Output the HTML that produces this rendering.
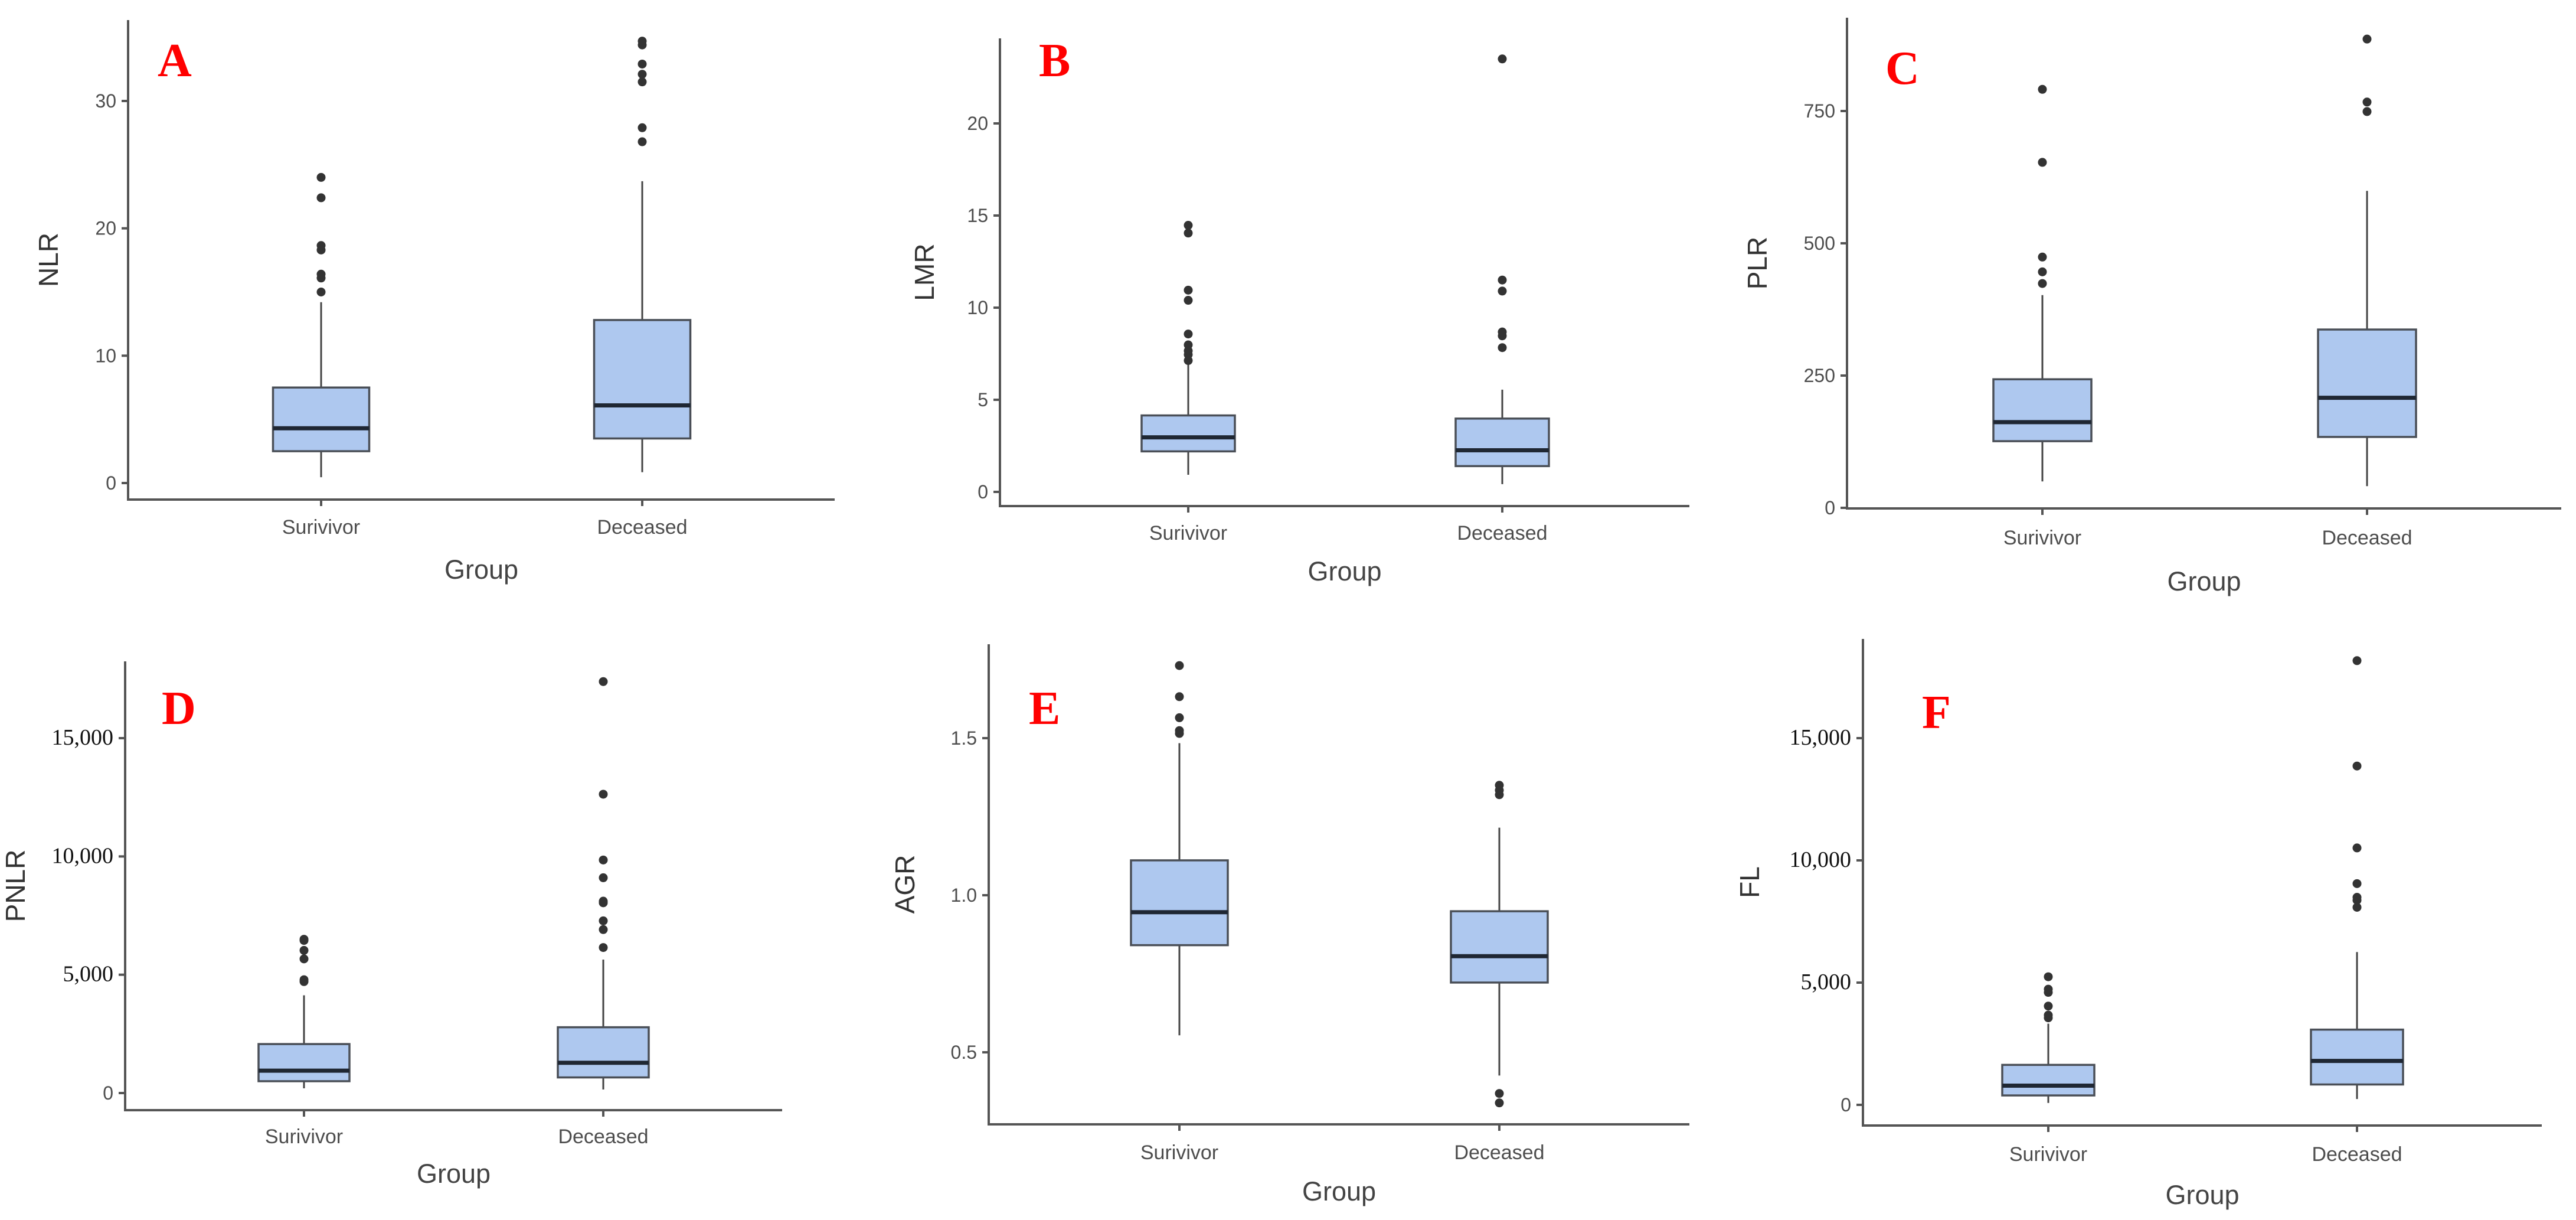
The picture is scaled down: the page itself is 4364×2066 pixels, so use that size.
<!DOCTYPE html>
<html><head><meta charset="utf-8">
<style>
html,body{margin:0;padding:0;background:#fff;}
svg{display:block;}
</style></head>
<body>
<svg id="fig" xmlns="http://www.w3.org/2000/svg" width="4364" height="2066" viewBox="0 0 4364 2066">
<rect x="0" y="0" width="4364" height="2066" fill="#fff"/>
</svg>
<script>
// ---- data: [low whisker, Q1, median, Q3, high whisker] per group ----
const categories = ["Surivivor", "Deceased"];

const nlrStats = [[0.46, 2.5, 4.3, 7.5, 14.2], [0.85, 3.5, 6.1, 12.8, 23.7]];
const nlrOutliers = [[15.0, 16.1, 16.4, 18.3, 18.65, 22.4, 24.0], [26.8, 27.9, 31.5, 32.1, 32.9, 34.4, 34.7]];
const nlrTicks = [0, 10, 20, 30];
const nlrTickLabels = ["0", "10", "20", "30"];

const lmrStats = [[0.93, 2.2, 2.96, 4.15, 7.0], [0.42, 1.4, 2.26, 3.98, 5.55]];
const lmrOutliers = [[7.13, 7.45, 7.66, 7.98, 8.57, 10.4, 10.95, 14.05, 14.47], [7.83, 8.47, 8.68, 10.9, 11.5, 23.5]];
const lmrTicks = [0, 5, 10, 15, 20];
const lmrTickLabels = ["0", "5", "10", "15", "20"];

const plrStats = [[50, 126, 162, 243, 402], [41, 134, 208, 337, 599]];
const plrOutliers = [[424, 446, 474, 653, 791], [749, 767, 886]];
const plrTicks = [0, 250, 500, 750];
const plrTickLabels = ["0", "250", "500", "750"];

const pnlrStats = [[200, 500, 945, 2070, 4130], [150, 660, 1280, 2780, 5640]];
const pnlrOutliers = [[4710, 4790, 5670, 6030, 6450, 6500], [6150, 6910, 7280, 8040, 8110, 9100, 9850, 12630, 17390]];
const pnlrTicks = [0, 5000, 10000, 15000];
const pnlrTickLabels = ["0", "5,000", "10,000", "15,000"];

const agrStats = [[0.554, 0.841, 0.946, 1.111, 1.484], [0.426, 0.722, 0.806, 0.949, 1.215]];
const agrOutliers = [[1.515, 1.524, 1.565, 1.632, 1.731], [1.32, 1.334, 1.35, 0.369, 0.339]];
const agrTicks = [0.5, 1.0, 1.5];
const agrTickLabels = ["0.5", "1.0", "1.5"];

const flStats = [[80, 385, 785, 1635, 3320], [240, 833, 1795, 3077, 6250]];
const flOutliers = [[3560, 3670, 4040, 4600, 4730, 5240], [8080, 8370, 8490, 9050, 10510, 13860, 18170]];
const flTicks = [0, 5000, 10000, 15000];
const flTickLabels = ["0", "5,000", "10,000", "15,000"];

// ---- layout (pixels) ----
const panels = [
 {key:"nlr", letter:"A", ylab:"NLR", stats:nlrStats, out:nlrOutliers, ticks:nlrTicks, tl:nlrTickLabels, serif:false,
  ax:217, top:34, bot:846, right:1414, v0:0, p0:818, v1:30, p1:171, xs:[544,1088], bw:163,
  lx:267, ly:129, ylx:98, cly:904, gy:980},
 {key:"lmr", letter:"B", ylab:"LMR", stats:lmrStats, out:lmrOutliers, ticks:lmrTicks, tl:lmrTickLabels, serif:false,
  ax:1694, top:65, bot:857, right:2862, v0:0, p0:833, v1:20, p1:209, xs:[2013,2545], bw:158,
  lx:1760, ly:129, ylx:1582, cly:914, gy:983},
 {key:"plr", letter:"C", ylab:"PLR", stats:plrStats, out:plrOutliers, ticks:plrTicks, tl:plrTickLabels, serif:false,
  ax:3129, top:30, bot:861, right:4339, v0:0, p0:860, v1:750, p1:188, xs:[3460,4010], bw:166,
  lx:3194, ly:142, ylx:2993, cly:922, gy:1000},
 {key:"pnlr", letter:"D", ylab:"PNLR", stats:pnlrStats, out:pnlrOutliers, ticks:pnlrTicks, tl:pnlrTickLabels, serif:true,
  ax:212, top:1120, bot:1880, right:1325, v0:0, p0:1851, v1:15000, p1:1250, xs:[515,1022], bw:154,
  lx:274, ly:1226, ylx:42, cly:1936, gy:2003},
 {key:"agr", letter:"E", ylab:"AGR", stats:agrStats, out:agrOutliers, ticks:agrTicks, tl:agrTickLabels, serif:false,
  ax:1675, top:1091, bot:1904, right:2862, v0:0.5, p0:1782, v1:1.5, p1:1250, xs:[1998,2540], bw:164,
  lx:1743, ly:1226, ylx:1549, cly:1963, gy:2033},
 {key:"fl", letter:"F", ylab:"FL", stats:flStats, out:flOutliers, ticks:flTicks, tl:flTickLabels, serif:true,
  ax:3156, top:1082, bot:1906, right:4306, v0:0, p0:1871, v1:15000, p1:1250, xs:[3470,3993], bw:156,
  lx:3256, ly:1233, ylx:2980, cly:1966, gy:2039}
];

const NS = "http://www.w3.org/2000/svg";
const svg = document.getElementById("fig");
function mk(tag, attrs, parent, text){
  const e = document.createElementNS(NS, tag);
  for (const k in attrs) e.setAttribute(k, attrs[k]);
  if (text !== undefined) e.textContent = text;
  parent.appendChild(e);
  return e;
}
const SANS = '"Liberation Sans", "DejaVu Sans", sans-serif';
const SERIF = '"Liberation Serif", serif';

panels.forEach(p => {
  const y = v => p.p0 + (v - p.v0) * (p.p1 - p.p0) / (p.v1 - p.v0);
  const g = mk("g", {}, svg);
  
  

  // axes
  const yAxis = mk("line", {x1:p.ax, y1:p.top, x2:p.ax, y2:p.bot+2, stroke:"#555", "stroke-width":4}, g);
  
  
  const xAxis = mk("line", {x1:p.ax-2, y1:p.bot, x2:p.right, y2:p.bot, stroke:"#555", "stroke-width":4}, g);
  
  

  // y ticks
  p.ticks.forEach((t, i) => {
    const ty = y(t);
    const tk = mk("line", {x1:p.ax-11, y1:ty, x2:p.ax, y2:ty, stroke:"#555", "stroke-width":4}, g);
    
    
    const lab = mk("text", {x:p.ax-20, y:ty+11, "text-anchor":"end",
      "font-family": (p.serif && t !== 0) ? SERIF : SANS,
      "font-size": (p.serif && t !== 0) ? 38 : 32,
      fill: (p.serif && t !== 0) ? "#111" : "#4d4d4d"}, g, p.tl[i]);
    
    
  });

  // boxes
  categories.forEach((c, ci) => {
    const cx = p.xs[ci];
    const s = p.stats[ci];
    const half = p.bw / 2;
    const wh = mk("line", {x1:cx, y1:y(s[0]), x2:cx, y2:y(s[4]), stroke:"#444", "stroke-width":3}, g);
    
    
    const bx = mk("rect", {x:cx-half, y:y(s[3]), width:p.bw, height:y(s[1]) - y(s[3]),
      fill:"#aec8ef", stroke:"#4a4f57", "stroke-width":3.5}, g);
    
    
    const md = mk("line", {x1:cx-half, y1:y(s[2]), x2:cx+half, y2:y(s[2]), stroke:"#1f2733", "stroke-width":7}, g);
    
    
    p.out[ci].forEach(v => {
      const pt = mk("circle", {cx:cx, cy:y(v), r:7.5, fill:"#333"}, g);
      
      
    });
    const xt = mk("line", {x1:cx, y1:p.bot, x2:cx, y2:p.bot+11, stroke:"#555", "stroke-width":4}, g);
    
    
    const cl = mk("text", {x:cx, y:p.cly, "text-anchor":"middle", "font-family":SANS, "font-size":34, fill:"#4d4d4d"}, g, c);
    
    
  });

  // axis titles
  const gx = (p.ax + p.right) / 2;
  const gt = mk("text", {x:gx, y:p.gy, "text-anchor":"middle", "font-family":SANS, "font-size":45, fill:"#444"}, g, "Group");
  
  
  const yc = (p.top + p.bot) / 2;
  const yt = mk("text", {x:p.ylx, y:yc, "text-anchor":"middle", "font-family":SANS, "font-size":46, fill:"#333",
    transform:"rotate(-90 " + p.ylx + " " + yc + ")"}, g, p.ylab);
  
  

  // panel letter
  const pl = mk("text", {x:p.lx, y:p.ly, "font-family":SERIF, "font-weight":"bold", "font-size":80, fill:"#ff0000"}, g, p.letter);
  
  
});
</script>
</body></html>
